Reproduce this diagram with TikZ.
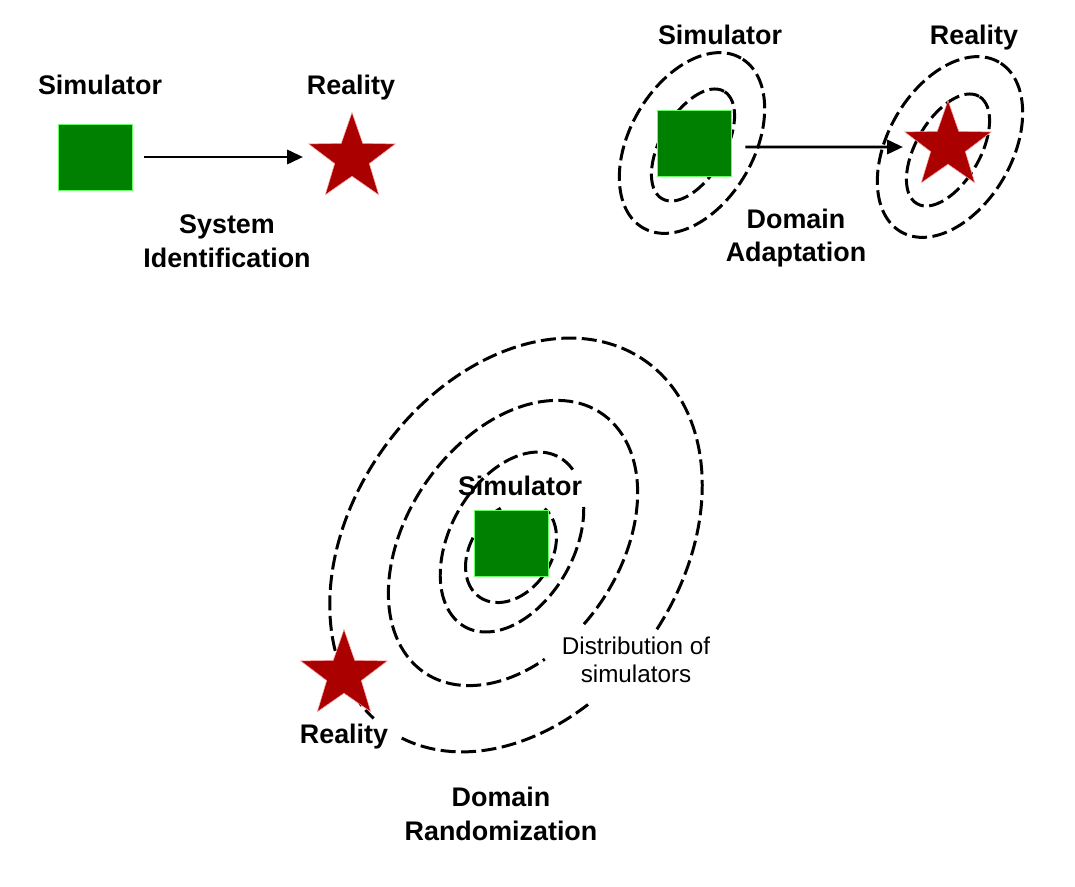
\documentclass[tikz,border=0pt]{standalone}
\usepackage{fontspec}
\setmainfont{Liberation Sans}
\usetikzlibrary{shapes.geometric,arrows.meta}
\definecolor{simgreen}{RGB}{0,128,0}
\definecolor{realred}{RGB}{170,0,0}
\tikzset{
 simbox/.style={fill=simgreen, draw=green!60!white, line width=0.4pt, minimum width=1.48cm, minimum height=1.32cm, inner sep=0pt},
 realstar/.style={star, star points=5, star point ratio=2.5, fill=realred, draw=red!35!white, line width=0.3pt, minimum size=1.82cm, inner sep=0pt},
 lbl/.style={font=\fontsize{15.3}{19.3}\selectfont\bfseries, align=center, inner sep=1pt},
 note/.style={font=\fontsize{13.8}{15.9}\selectfont, align=center, inner sep=1pt},
 dist/.style={dash pattern=on 0.3cm off 0.11cm, line width=1.7pt},
 link/.style={line width=1.7pt, -{Triangle[length=9pt,width=8pt]}},
}
\begin{document}
\begin{tikzpicture}[x=0.02cm,y=-0.02cm]
\useasboundingbox (0,0) rectangle (1075,886);

% ---------- top left: system identification ----------
\node[simbox] (s1) at (95,157) {};
\node[realstar] (r1) at (352,158) {};
\node[lbl] (s1l) at (100,85) {Simulator};
\node[lbl] (r1l) at (351,88) {Reality};
\node[lbl] (t1) at (227,241) {System\\Identification};
\draw[link] ([xshift=0.24cm]s1.east) -- ([xshift=-0.98cm,yshift=0.02cm]r1.center);

% ---------- top right: domain adaptation ----------
\draw[dist, rotate around={60:(692,143)}] (692,143) ellipse [x radius=1.96cm, y radius=1.24cm];
\draw[dist, rotate around={60:(693,145)}] (693,145) ellipse [x radius=1.24cm, y radius=0.64cm];
\draw[dist, rotate around={60:(950,147)}] (950,147) ellipse [x radius=1.96cm, y radius=1.24cm];
\draw[dist, rotate around={60:(948,150)}] (948,150) ellipse [x radius=1.24cm, y radius=0.64cm];
\node[simbox] (s2) at (694,143) {};
\node[realstar] (r2) at (948,146) {};
\node[lbl] (s2l) at (720,35) {Simulator};
\node[lbl] (r2l) at (974,38) {Reality};
\node[lbl] (t2) at (796,238) {Domain\\Adaptation};
\draw[link] ([xshift=0.28cm,yshift=-0.08cm]s2.east) -- ([xshift=-0.9cm,yshift=-0.02cm]r2.center);

% ---------- bottom: domain randomization ----------
\begin{scope}[shift={(516,545)}, rotate=55]
\draw[dist] (-87:4.5cm and 3.28cm) arc[start angle=-87, end angle=174, x radius=4.5cm, y radius=3.28cm];
\draw[dist] (186:4.5cm and 3.28cm) arc[start angle=186, end angle=248, x radius=4.5cm, y radius=3.28cm];
\end{scope}
\begin{scope}[shift={(513,543)}, rotate=55.5]
\draw[dist] (-99.8:3.14cm and 2.12cm) arc[start angle=-99.8, end angle=240.3, x radius=3.14cm, y radius=2.12cm];
\end{scope}
\begin{scope}[shift={(512,542)}, rotate=61]
\draw[dist] (-16.9:1.94cm and 1.24cm) arc[start angle=-16.9, end angle=315.4, x radius=1.94cm, y radius=1.24cm];
\end{scope}
\begin{scope}[shift={(511,552)}, rotate=55]
\draw[dist] (57:1.1cm and 0.8cm) arc[start angle=57, end angle=356, x radius=1.1cm, y radius=0.8cm];
\end{scope}
\node[simbox] (s3) at (511.5,543) {};
\node[realstar] (r3) at (344,675) {};
\node[lbl] (s3l) at (520,486) {Simulator};
\node[lbl] (r3l) at (344,737) {Reality};
\node[note] (d3) at (636,660) {Distribution of\\simulators};
\node[lbl] (t3) at (501,814) {Domain\\Randomization};
\end{tikzpicture}
\end{document}
